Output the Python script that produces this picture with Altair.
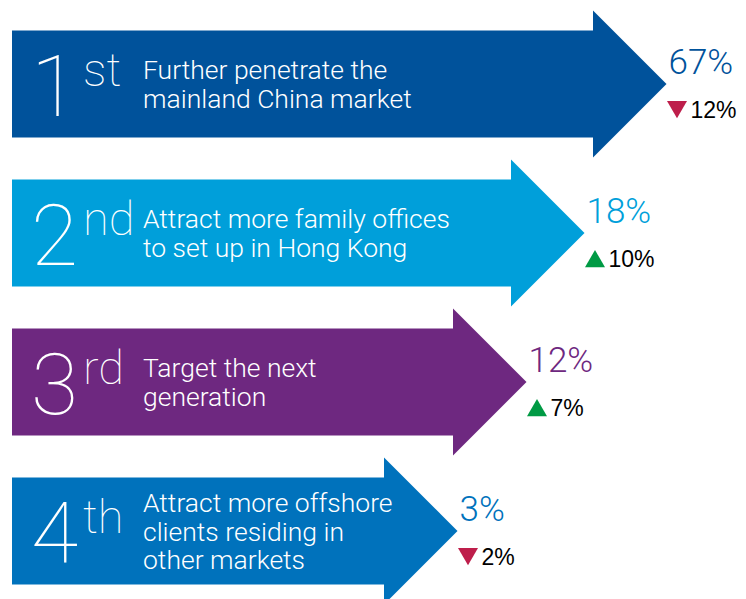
import altair as alt
import pandas as pd

# ---- data ----
ranks = ["1", "2", "3", "4"]
suffixes = ["st", "nd", "rd", "th"]
descriptions = [
    "Further penetrate the\nmainland China market",
    "Attract more family offices\nto set up in Hong Kong",
    "Target the next\ngeneration",
    "Attract more offshore\nclients residing in\nother markets",
]
shares = [67, 18, 12, 3]          # % of respondents
changes = [12, 10, 7, 2]          # change in percentage points
directions = ["down", "up", "up", "down"]
arrow_length = [585, 503, 445, 376]   # length of arrow shaft (chart units)
colors = ["#00529B", "#009FDA", "#6E2880", "#0072BC"]

df = pd.DataFrame({
    "row": list(range(len(ranks))),
    "rank": ranks,
    "suffix": suffixes,
    "desc": descriptions,
    "share": shares,
    "change": changes,
    "direction": directions,
    "length": arrow_length,
})

ROW_PX = 149.0
HEAD_W = 73.5
HALF_BODY = 0.359
LINE_H = 28.5

base = alt.Chart(df).transform_calculate(
    x0="4",
    tip=f"datum.length + {HEAD_W}",
    y_top=f"datum.row - {HALF_BODY}",
    y_bot=f"datum.row + {HALF_BODY}",
    tri_x=f"datum.length + {HEAD_W} + 10.5",
    tri_y="datum.row + 0.172",
    share_label="datum.share + '%'",
    change_label="datum.change + '%'",
    num_x="70",
    suf_x="75",
    desc_x="135",
    nlines="split(datum.desc, '\\n').length",
).transform_calculate(
    desc_y=f"datum.row + (-4.5 - (datum.nlines - 2) * {LINE_H / 2}) / {ROW_PX}",
)

xs = alt.Scale(domain=[0, 730], nice=False, zero=False)
ys = alt.Scale(domain=[-0.51, 3.403], nice=False, zero=False, reverse=True)
cscale = alt.Scale(domain=ranks, range=colors)

body = base.mark_rect().encode(
    x=alt.X("x0:Q", scale=xs, axis=None),
    x2="length:Q",
    y=alt.Y("y_top:Q", scale=ys, axis=None),
    y2="y_bot:Q",
    color=alt.Color("rank:N", scale=cscale, legend=None),
)

head = base.mark_point(
    shape="M0,-1L1,0L0,1Z", filled=True, size=21609, opacity=1, strokeWidth=0
).encode(
    x=alt.X("length:Q", scale=xs, axis=None),
    y=alt.Y("row:Q", scale=ys, axis=None),
    color=alt.Color("rank:N", scale=cscale, legend=None),
)

num = base.mark_text(
    font="Roboto", fontWeight=100, fontSize=86, color="white",
    align="right", baseline="alphabetic", dy=32,
).encode(
    x=alt.X("num_x:Q", scale=xs, axis=None),
    y=alt.Y("row:Q", scale=ys, axis=None),
    text="rank:N",
)

suf = base.mark_text(
    font="Roboto", fontWeight=100, fontSize=47, color="white",
    align="left", baseline="alphabetic", dy=2,
).encode(
    x=alt.X("suf_x:Q", scale=xs, axis=None),
    y=alt.Y("row:Q", scale=ys, axis=None),
    text="suffix:N",
)

desc = base.mark_text(
    font="Roboto", fontWeight=300, fontSize=26.5, color="white",
    align="left", baseline="alphabetic", lineBreak="\n", lineHeight=LINE_H,
).encode(
    x=alt.X("desc_x:Q", scale=xs, axis=None),
    y=alt.Y("desc_y:Q", scale=ys, axis=None),
    text="desc:N",
)

share = base.mark_text(
    font="Roboto", fontWeight=300, fontSize=35,
    align="left", baseline="alphabetic", dx=2, dy=-10,
).encode(
    x=alt.X("tip:Q", scale=xs, axis=None),
    y=alt.Y("row:Q", scale=ys, axis=None),
    text="share_label:N",
    color=alt.Color("rank:N", scale=cscale, legend=None),
)

tri = base.mark_point(filled=True, size=400, opacity=1, strokeWidth=0).encode(
    x=alt.X("tri_x:Q", scale=xs, axis=None),
    y=alt.Y("tri_y:Q", scale=ys, axis=None),
    shape=alt.Shape(
        "direction:N",
        scale=alt.Scale(
            domain=["up", "down"],
            range=["M-1,0.866L0,-0.866L1,0.866Z", "M-1,-0.866L1,-0.866L0,0.866Z"],
        ),
        legend=None,
    ),
    color=alt.Color(
        "direction:N",
        scale=alt.Scale(domain=["up", "down"], range=["#009A44", "#BE1E4B"]),
        legend=None,
    ),
)

change = base.mark_text(
    font="Liberation Sans", fontSize=23, color="black",
    align="left", baseline="alphabetic", dx=24, dy=34,
).encode(
    x=alt.X("tip:Q", scale=xs, axis=None),
    y=alt.Y("row:Q", scale=ys, axis=None),
    text="change_label:N",
)

chart = alt.layer(body, head, num, suf, desc, share, tri, change).resolve_scale(
    color="independent"
).properties(width=730, height=583, padding=0).configure_view(stroke=None)

chart.save("out.html", embed_options={"renderer": "svg", "actions": False})
